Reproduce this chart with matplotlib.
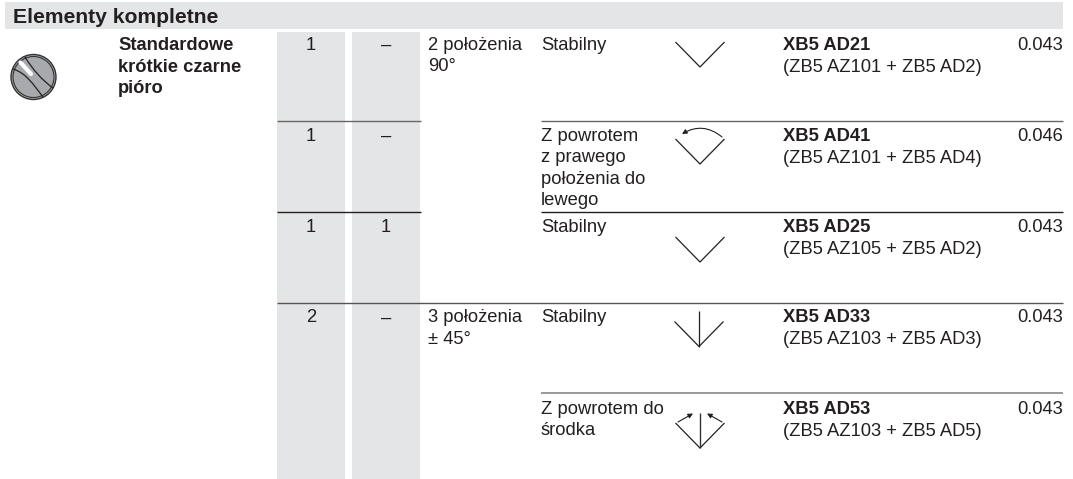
import matplotlib
matplotlib.use("Agg")
import matplotlib.pyplot as plt
from matplotlib.patches import Circle, FancyArrowPatch, PathPatch, Rectangle
from matplotlib.path import Path

plt.rcParams['font.family'] = ['Liberation Sans', 'DejaVu Sans']
plt.rcParams['lines.solid_capstyle'] = 'butt'

header = "Elementy kompletne"
product = ["Standardowe", "krótkie czarne", "pióro"]
qty_a = ["1", "1", "1", "2"]
qty_b = ["–", "–", "1", "–"]
qty_y = [50, 141, 232, 322.5]
positions = [["2 położenia", "90°"], ["3 położenia", "± 45°"]]
positions_y = [50, 322.5]
kinds = [["Stabilny"],
         ["Z powrotem", "z prawego", "położenia do", "lewego"],
         ["Stabilny"],
         ["Stabilny"],
         ["Z powrotem do", "środka"]]
refs = ["XB5 AD21", "XB5 AD41", "XB5 AD25", "XB5 AD33", "XB5 AD53"]
subrefs = ["(ZB5 AZ101 + ZB5 AD2)", "(ZB5 AZ101 + ZB5 AD4)", "(ZB5 AZ105 + ZB5 AD2)",
           "(ZB5 AZ103 + ZB5 AD3)", "(ZB5 AZ103 + ZB5 AD5)"]
weights = ["0.043", "0.046", "0.043", "0.043", "0.043"]
row_y = [50, 141, 232, 322.5, 413.5]

GRAY = "#e4e5e7"
DARK = "#231f20"
LH = 21.3
SIZE = 13.2

fig = plt.figure(figsize=(10.73, 4.79), dpi=100)
ax = fig.add_axes([0, 0, 1, 1])
ax.set_xlim(0, 1073)
ax.set_ylim(479, 0)
ax.axis('off')

# backgrounds
ax.add_patch(Rectangle((5, 2), 1058, 27, fc=GRAY, ec='none'))
ax.add_patch(Rectangle((277, 32), 68, 447, fc=GRAY, ec='none'))
ax.add_patch(Rectangle((352, 32), 68, 447, fc=GRAY, ec='none'))

# row lines
ax.plot([277, 420.5], [120.5, 120.5], c="#666666", lw=1.0)
ax.plot([541, 1063], [120.5, 120.5], c="#666666", lw=1.0)
ax.plot([277, 420.5], [211.5, 211.5], c=DARK, lw=1.0)
ax.plot([541, 1063], [211.5, 211.5], c=DARK, lw=1.0)
ax.plot([277, 1063], [302.5, 302.5], c="#555555", lw=1.0)
ax.plot([541, 1063], [393, 393], c="#888888", lw=1.2)

def txt(x, y, s, bold=False, size=SIZE, ha='left'):
    ax.text(x, y, s, fontsize=size, color=DARK, ha=ha, va='baseline',
            fontweight='bold' if bold else 'normal')

txt(12.7, 22.7, header, bold=True, size=15.2)
for i, s in enumerate(product):
    txt(118, 50 + i * 21.5, s, bold=True)

for a, b, y in zip(qty_a, qty_b, qty_y):
    txt(311, y, a, ha='center')
    txt(386, y, b, ha='center')
for lines, y in zip(positions, positions_y):
    for i, s in enumerate(lines):
        txt(428, y + i * LH, s)
for lines, y in zip(kinds, row_y):
    for i, s in enumerate(lines):
        txt(541, y + i * LH, s)
for r, sr, w, y in zip(refs, subrefs, weights, row_y):
    txt(783, y, r, bold=True)
    txt(783, y + 22, sr)
    txt(1063, y, w, ha='right')

# knob symbol
ax.add_patch(Circle((33.5, 77), 22.5, fc="#a7a9ac", ec="#333333", lw=1.0))
ax.add_patch(Circle((33.5, 77), 20.5, fc="#a7a9ac", ec="#333333", lw=0.8))
curve = [Path.MOVETO, Path.CURVE4, Path.CURVE4, Path.CURVE4]
ax.add_patch(PathPatch(Path([(13, 69), (26, 73), (33, 84), (43, 97)], curve),
                       fc='none', ec="#222222", lw=0.9))
ax.add_patch(PathPatch(Path([(25, 57), (33, 70), (42, 80), (53, 88)], curve),
                       fc='none', ec="#222222", lw=0.9))
ax.plot([20.5, 31], [62.5, 74], c="white", lw=3.0, solid_capstyle='round')

# position symbols
def vee(xc, ytop):
    ax.plot([xc - 24.5, xc, xc + 24.5], [ytop, ytop + 25, ytop], c=DARK, lw=0.9)

def arrow(p1, p2, rad=0.0):
    ax.add_patch(FancyArrowPatch(p1, p2, arrowstyle='-|>', mutation_scale=7, lw=0.8,
                                 color=DARK, shrinkA=0, shrinkB=0,
                                 connectionstyle="arc3,rad=%s" % rad))

vee(700, 42)
vee(700, 139)
arrow((722, 137), (682, 134), rad=0.35)
vee(700, 237)
vee(699, 321.5)
ax.plot([699, 699], [311, 346.5], c=DARK, lw=0.9)
vee(700, 423)
ax.plot([700, 700], [413, 448], c="#333333", lw=1.0)
arrow((678, 422), (693, 413.5))
arrow((722, 422), (707, 413.5))

plt.savefig("out.png", dpi=100)
